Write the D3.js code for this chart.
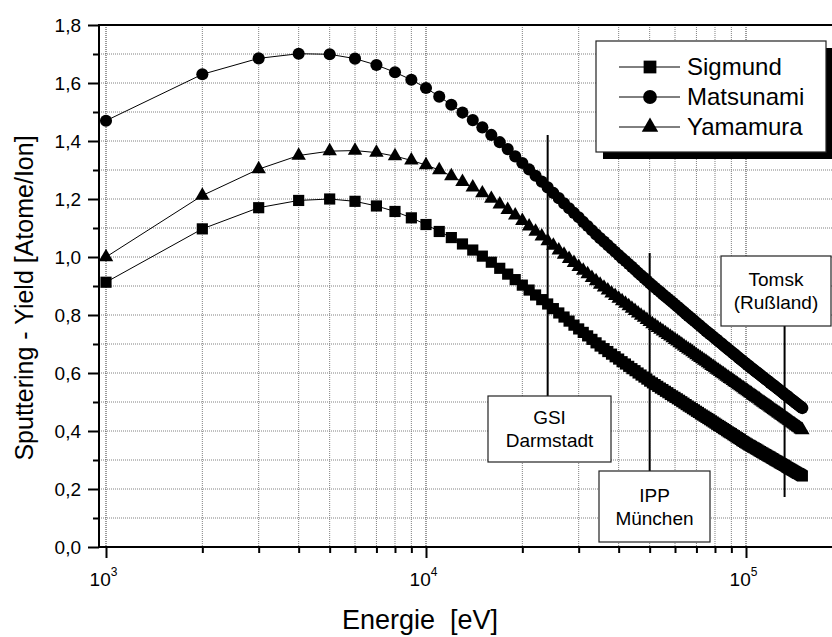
<!DOCTYPE html>
<html lang="de">
<head>
<meta charset="UTF-8">
<script src="https://cdn.jsdelivr.net/npm/d3@7/dist/d3.min.js"></script>
<title>Sputtering Yield</title>
<style>
    body { margin: 0; background: #fff; }
    svg { display: block; font-family: Arial, "Liberation Sans", sans-serif; }
    .grid line { stroke: #808080; stroke-width: 1; stroke-dasharray: 1,1; }
    .grid line.major { stroke: #333; }
    .axis path { display: none; }
    .axis line { stroke: #000; stroke-width: 2; }
    .axis text { font-size: 19px; fill: #000; font-family: Arial, "Liberation Sans", sans-serif; }
</style>
</head>
<body>
<svg id="chart" width="832" height="637"></svg>
<script>
// Energie in keV (x 1000 eV)
var energyKeV = [1,2,3,4,5,6,7,8,9,10,
    11,12,13,14,15,16,17,18,19,20,21,22,23,24,25,26,27,28,29,30,
    31,32,33,34,35,36,37,38,39,40,41,42,43,44,45,46,47,48,49,50,
    51,52,53,54,55,56,57,58,59,60,61,62,63,64,65,66,67,68,69,70,
    71,72,73,74,75,76,77,78,79,80,81,82,83,84,85,86,87,88,89,90,
    91,92,93,94,95,96,97,98,99,100,101,102,103,104,105,106,107,108,109,110,
    111,112,113,114,115,116,117,118,119,120,121,122,123,124,125,126,127,128,129,130,
    131,132,133,134,135,136,137,138,139,140,141,142,143,144,145,146,147,148,149,150];

var sigmund = [0.913,1.097,1.170,1.195,1.200,1.192,1.176,1.157,1.135,1.112,
    1.088,1.067,1.045,1.024,1.003,0.982,0.961,0.941,0.922,0.903,0.886,0.869,0.853,0.838,0.822,0.807,0.793,0.779,0.765,0.752,
    0.740,0.728,0.716,0.704,0.693,0.684,0.674,0.665,0.656,0.648,0.639,0.631,0.623,0.615,0.608,0.600,0.593,0.586,0.579,0.572,
    0.566,0.560,0.554,0.548,0.543,0.537,0.532,0.526,0.521,0.516,0.511,0.506,0.501,0.496,0.491,0.486,0.482,0.477,0.473,0.468,
    0.464,0.459,0.455,0.451,0.447,0.443,0.439,0.435,0.431,0.427,0.423,0.419,0.416,0.412,0.408,0.405,0.401,0.397,0.394,0.391,
    0.387,0.384,0.380,0.377,0.374,0.371,0.367,0.364,0.361,0.358,0.355,0.352,0.350,0.347,0.344,0.342,0.339,0.337,0.334,0.331,
    0.329,0.326,0.324,0.321,0.319,0.317,0.314,0.312,0.310,0.307,0.305,0.303,0.300,0.298,0.296,0.294,0.291,0.289,0.287,0.285,
    0.283,0.281,0.279,0.276,0.274,0.272,0.270,0.268,0.266,0.264,0.262,0.260,0.258,0.256,0.254,0.253,0.251,0.249,0.247,0.245];

var matsunami = [1.470,1.630,1.685,1.701,1.699,1.684,1.662,1.637,1.611,1.583,
    1.553,1.525,1.498,1.472,1.447,1.421,1.396,1.372,1.347,1.324,1.302,1.280,1.260,1.240,1.221,1.203,1.185,1.168,1.152,1.137,
    1.121,1.107,1.092,1.078,1.065,1.053,1.041,1.029,1.018,1.007,0.996,0.986,0.976,0.966,0.956,0.946,0.937,0.928,0.919,0.910,
    0.902,0.894,0.886,0.879,0.871,0.864,0.857,0.850,0.843,0.836,0.829,0.823,0.816,0.810,0.803,0.797,0.791,0.785,0.779,0.773,
    0.767,0.762,0.756,0.751,0.745,0.740,0.735,0.730,0.725,0.720,0.715,0.710,0.705,0.701,0.696,0.691,0.687,0.682,0.678,0.673,
    0.669,0.665,0.661,0.656,0.652,0.648,0.644,0.640,0.636,0.632,0.628,0.625,0.621,0.617,0.614,0.610,0.606,0.603,0.600,0.596,
    0.593,0.589,0.586,0.583,0.579,0.576,0.573,0.570,0.566,0.563,0.560,0.557,0.554,0.551,0.548,0.545,0.542,0.539,0.536,0.533,
    0.530,0.527,0.524,0.522,0.519,0.516,0.513,0.510,0.508,0.505,0.502,0.500,0.497,0.494,0.492,0.489,0.487,0.484,0.481,0.479];

var yamamura = [1.000,1.212,1.303,1.350,1.365,1.367,1.360,1.348,1.333,1.317,
    1.300,1.279,1.259,1.240,1.220,1.201,1.182,1.163,1.144,1.125,1.106,1.088,1.071,1.055,1.039,1.023,1.008,0.994,0.980,0.966,
    0.953,0.941,0.928,0.917,0.905,0.895,0.885,0.875,0.866,0.857,0.848,0.839,0.831,0.822,0.814,0.806,0.798,0.791,0.783,0.776,
    0.769,0.763,0.756,0.750,0.744,0.738,0.732,0.726,0.720,0.714,0.709,0.703,0.698,0.692,0.687,0.682,0.677,0.672,0.667,0.662,
    0.657,0.652,0.648,0.643,0.639,0.634,0.630,0.625,0.621,0.617,0.612,0.608,0.604,0.600,0.596,0.592,0.588,0.584,0.580,0.577,
    0.573,0.569,0.566,0.562,0.558,0.555,0.551,0.548,0.544,0.541,0.538,0.534,0.531,0.528,0.524,0.521,0.518,0.515,0.512,0.509,
    0.505,0.502,0.499,0.496,0.493,0.490,0.488,0.485,0.482,0.479,0.476,0.473,0.470,0.468,0.465,0.462,0.460,0.457,0.454,0.452,
    0.449,0.446,0.444,0.441,0.439,0.436,0.434,0.431,0.429,0.426,0.424,0.422,0.419,0.417,0.414,0.412,0.410,0.407,0.405,0.403];

var seriesNames = ["Sigmund", "Matsunami", "Yamamura"];
var seriesValues = [sigmund, matsunami, yamamura];
var seriesSymbols = [d3.symbolSquare, d3.symbolCircle, d3.symbolTriangle];
var symbolSizes = [125, 115, 90];

var yTicks = [0, 0.2, 0.4, 0.6, 0.8, 1.0, 1.2, 1.4, 1.6, 1.8];
var yMinor = [0.1, 0.3, 0.5, 0.7, 0.9, 1.1, 1.3, 1.5, 1.7];
var xMajor = [1e3, 1e4, 1e5];
var xMinor = [2e3,3e3,4e3,5e3,6e3,7e3,8e3,9e3,2e4,3e4,4e4,5e4,6e4,7e4,8e4,9e4,2e5];

// Anlagen: Energie in eV und Beschriftung
var siteNames = [["GSI", "Darmstadt"], ["IPP", "München"], ["Tomsk", "(Rußland)"]];
var siteEnergy = [24000, 50000, 132000];

var svg = d3.select("#chart");
var plotLeft = 99, plotRight = 850, plotTop = 25, plotBottom = 547;

var x = d3.scaleLog().domain([1e3, 1e5]).range([106, 746]);
var y = d3.scaleLinear().domain([0, 1.8]).range([plotBottom, plotTop]);

svg.append("defs").append("clipPath").attr("id", "clip")
    .append("rect").attr("x", plotLeft).attr("y", plotTop)
    .attr("width", plotRight - plotLeft).attr("height", plotBottom - plotTop);

// Gitter
var grid = svg.append("g").attr("class", "grid").attr("clip-path", "url(#clip)");
grid.selectAll("line.h").data(yTicks.concat(yMinor).filter(function (d) { return d > 0 && d < 1.8; }))
    .enter().append("line")
    .attr("x1", plotLeft).attr("x2", plotRight)
    .attr("y1", function (d) { return y(d); })
    .attr("y2", function (d) { return y(d); });
grid.selectAll("line.v").data(xMinor.concat(xMajor))
    .enter().append("line")
    .attr("class", function (d) { return xMajor.indexOf(d) >= 0 ? "major" : ""; })
    .attr("x1", function (d) { return x(d); })
    .attr("x2", function (d) { return x(d); })
    .attr("y1", plotTop).attr("y2", plotBottom);

// Kurven
var plot = svg.append("g").attr("clip-path", "url(#clip)");
var line = d3.line()
    .x(function (d, i) { return x(energyKeV[i] * 1000); })
    .y(function (d) { return y(d); });

seriesValues.forEach(function (vals, s) {
    plot.append("path")
        .datum(vals)
        .attr("fill", "none")
        .attr("stroke", "#000")
        .attr("stroke-width", 1)
        .attr("d", line);
    plot.append("g").selectAll("path")
        .data(vals)
        .enter().append("path")
        .attr("d", d3.symbol().type(seriesSymbols[s]).size(symbolSizes[s]))
        .attr("fill", "#000")
        .attr("transform", function (d, i) {
            return "translate(" + x(energyKeV[i] * 1000) + "," + y(d) + ")";
        });
});

// Achsen
var fmt = d3.format(".1f");
svg.append("g").attr("class", "axis")
    .attr("transform", "translate(" + plotLeft + ",0)")
    .call(d3.axisLeft(y).tickValues(yTicks).tickSize(11).tickPadding(7)
        .tickFormat(function (d) { return fmt(d).replace(".", ","); }));
svg.append("g").attr("class", "axis")
    .attr("transform", "translate(" + plotLeft + ",0)")
    .call(d3.axisLeft(y).tickValues(yMinor).tickSize(6).tickFormat(""));

svg.append("g").attr("class", "axis")
    .attr("transform", "translate(0," + plotBottom + ")")
    .call(d3.axisBottom(x).tickValues(xMinor).tickSize(6).tickFormat(""));
var xAx = svg.append("g").attr("class", "axis")
    .attr("transform", "translate(0," + plotBottom + ")")
    .call(d3.axisBottom(x).tickValues(xMajor).tickSize(11).tickFormat(""));
xAx.selectAll(".tick").append("text")
    .attr("y", 39).attr("x", -3)
    .attr("text-anchor", "middle")
    .text("10")
    .append("tspan")
    .attr("font-size", "12px")
    .attr("dy", -10)
    .text(function (d) { return Math.round(Math.log10(d)); });

// Rahmen
svg.append("line").attr("x1", plotLeft).attr("x2", plotLeft).attr("y1", plotTop - 1).attr("y2", plotBottom + 1)
    .attr("stroke", "#000").attr("stroke-width", 2);
svg.append("line").attr("x1", plotLeft).attr("x2", plotRight).attr("y1", plotBottom).attr("y2", plotBottom)
    .attr("stroke", "#000").attr("stroke-width", 2);
svg.append("line").attr("x1", plotLeft).attr("x2", plotRight).attr("y1", plotTop).attr("y2", plotTop)
    .attr("stroke", "#000").attr("stroke-width", 2);

// Achsentitel
svg.append("text")
    .attr("x", 420).attr("y", 629)
    .attr("text-anchor", "middle")
    .attr("font-size", "27px")
    .attr("xml:space", "preserve")
    .text("Energie  [eV]");
svg.append("text")
    .attr("transform", "translate(33,298) rotate(-90)")
    .attr("text-anchor", "middle")
    .attr("font-size", "25px")
    .text("Sputtering - Yield [Atome/Ion]");

// Markierungen der Anlagen
var boxes = [
    { x: 488, y: 396, w: 123, h: 66, lineTop: 135, lineBottom: 396 },
    { x: 599, y: 471, w: 111, h: 71, lineTop: 253, lineBottom: 471 },
    { x: 721, y: 256, w: 110, h: 70, lineTop: 326, lineBottom: 497 }
];
siteEnergy.forEach(function (e, i) {
    var b = boxes[i];
    svg.append("line")
        .attr("x1", x(e)).attr("x2", x(e))
        .attr("y1", b.lineTop).attr("y2", b.lineBottom)
        .attr("stroke", "#000").attr("stroke-width", 2);
    svg.append("rect")
        .attr("x", b.x).attr("y", b.y).attr("width", b.w).attr("height", b.h)
        .attr("fill", "#fff").attr("stroke", "#222").attr("stroke-width", 1.2);
    svg.append("text")
        .attr("x", b.x + b.w / 2).attr("y", b.y + b.h / 2 - 5)
        .attr("text-anchor", "middle").attr("font-size", "19px")
        .text(siteNames[i][0]);
    svg.append("text")
        .attr("x", b.x + b.w / 2).attr("y", b.y + b.h / 2 + 18)
        .attr("text-anchor", "middle").attr("font-size", "19px")
        .text(siteNames[i][1]);
});

// Legende
var lg = svg.append("g");
lg.append("rect").attr("x", 603).attr("y", 48).attr("width", 240).attr("height", 111).attr("fill", "#000");
lg.append("rect").attr("x", 596).attr("y", 41).attr("width", 230).attr("height", 111)
    .attr("fill", "#fff").attr("stroke", "#222").attr("stroke-width", 1.2);
seriesNames.forEach(function (name, i) {
    var ly = 67 + i * 30;
    lg.append("line").attr("x1", 619).attr("x2", 680).attr("y1", ly).attr("y2", ly)
        .attr("stroke", "#000").attr("stroke-width", 1);
    lg.append("path")
        .attr("d", d3.symbol().type(seriesSymbols[i]).size(symbolSizes[i] * 1.3))
        .attr("transform", "translate(650," + ly + ")");
    lg.append("text").attr("x", 687).attr("y", ly + 8)
        .attr("font-size", "24px").text(name);
});
</script>
</body>
</html>
